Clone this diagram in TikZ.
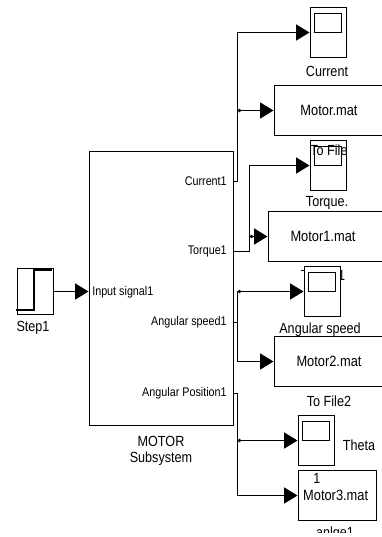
\documentclass[tikz,border=0pt]{standalone}
\usepackage{fontspec}
\setmainfont[FakeStretch=0.86]{Liberation Sans}
\usetikzlibrary{arrows.meta, positioning}
\tikzset{
  scopebox/.style = {rectangle, draw=black, line width=0.75pt, fill=white,
                     minimum width=27pt, minimum height=38pt, inner sep=0pt},
  screen/.style   = {rectangle, draw=black, line width=0.75pt, fill=white,
                     minimum width=20pt, minimum height=14.5pt, inner sep=0pt},
  filebox/.style  = {rectangle, draw=black, line width=0.75pt,
                     minimum height=37.5pt, inner sep=0pt, font=\fontsize{11.2}{13}\selectfont},
  lbl/.style      = {inner sep=0pt, font=\fontsize{11}{13}\selectfont},
  port/.style     = {inner sep=0pt, font=\fontsize{9.4}{11}\selectfont},
  arr/.style      = {-{Triangle[length=10pt,width=12pt]}, line width=0.85pt},
  wire/.style     = {line width=0.85pt},
  dotmark/.style  = {circle, fill=black, inner sep=0pt, minimum size=2.8pt},
}

\begin{document}
\begin{tikzpicture}[x=0.75pt, y=-0.75pt]
  \clip (0,0) rectangle (382,537);

  %% --- Source and subsystem ---
  \node[scopebox, minimum height=35pt] (stepblk) at (35,291.5) {};
  \node[lbl] (steplbl) at (33,328) {Step1};
  \node[rectangle, draw=black, line width=0.75pt, minimum width=108pt,
        minimum height=206pt, inner sep=0pt] (motor) at (161,288.5) {};
  \node[port, right] (inlbl) at (92,292) {Input signal1};
  \node[port, left] (curlbl) at (227,181.5) {Current1};
  \node[port, left] (torlbl) at (227,251.5) {Torque1};
  \node[port, left] (spdlbl) at (227,322.5) {Angular speed1};
  \node[port, left] (poslbl) at (227,393.5) {Angular Position1};
  \node[lbl] (motorlbl) at (161,441) {MOTOR};
  \node[lbl] (sublbl) at (161,459) {Subsystem};

  %% --- Step glyph ---
  \draw[wire, line width=1pt] (16,310) -- (34,310) -- (34,270) -- (52,270);

  %% --- Current sinks ---
  \node[scopebox] (scopeA) at (328,32.5) {};
  \node[lbl] (scopeAlbl) at (327,71) {Current};
  \node[filebox, minimum width=82.5pt] (fileA) at (329,110.5) {Motor.mat};

  %% --- Torque sinks ---
  \node[scopebox] (scopeB) at (328,165.5) {};
  \node[filebox, minimum width=87pt] (fileB) at (326,236.5) {\hspace*{-4.5pt}Motor1.mat};
  \node[lbl] (scopeBlbl) at (327,203) {Torque.};
  \node[lbl] (fileBlbl) at (323,275) {To File1};

  %% --- Speed sinks ---
  \node[scopebox] (scopeC) at (322,291.5) {};
  \node[filebox, minimum width=82.5pt] (fileC) at (329,361.5) {Motor2.mat};
  \node[lbl] (scopeClbl) at (320,330) {Angular speed};
  \node[lbl] (fileClbl) at (329,401) {To File2};

  %% --- Position sinks ---
  \node[scopebox] (scopeD) at (316,440.5) {};
  \node[lbl] (scopeDlbl) at (359,445) {Theta};
  \node[filebox, minimum width=58.5pt] (fileD) at (337,495.5) {\hspace*{-2pt}Motor3.mat};
  \node[lbl] (fileDnum) at (317,478) {1};
  \begin{scope}
    \clip (290,524) rectangle (382,532);
    \node[lbl] (fileDlbl) at (335,534) {anlge1};
  \end{scope}

  %% --- Scope screens ---
  \foreach \s in {scopeA, scopeB, scopeC, scopeD}
    \node[screen, below=4.5pt of \s.north] (\s-scrn) {};

  \node[lbl] (fileAlbl) at (329,150) {To File};

  %% --- Arrows ---
  \draw[arr] (stepblk.east) -- (motor.west |- stepblk.east);

  \coordinate (curtrunk) at (237.5,181.5);
  \coordinate (tortrunk) at (249.5,251.5);
  \coordinate (spdtrunk) at (237.5,322.5);
  \coordinate (postrunk) at (237.5,393.5);

  \draw[arr] (motor.east |- curlbl) -- (curtrunk) |- (scopeA.west);
  \draw[arr] (curtrunk |- fileA.west) -- (fileA.west);
  \draw[arr] (motor.east |- torlbl) -- (tortrunk) |- (scopeB.west);
  \draw[arr] (tortrunk |- fileB.west) -- (fileB.west);
  \draw[wire] (motor.east |- spdlbl) -- (spdtrunk);
  \draw[arr] (spdtrunk) |- (scopeC.west);
  \draw[arr] (spdtrunk) |- (fileC.west);
  \draw[wire] (motor.east |- poslbl) -- (postrunk);
  \draw[arr] (postrunk) |- (scopeD.west);
  \draw[arr] (postrunk) |- (fileD.west);

  %% --- Branch dots ---
  \node[dotmark, xshift=1.5pt] (dotA) at (curtrunk |- fileA.west) {};
  \node[dotmark, xshift=1.5pt] (dotB) at (tortrunk |- fileB.west) {};
  \node[dotmark, xshift=1.5pt] (dotC) at (spdtrunk |- scopeC.west) {};
  \node[dotmark, xshift=1.5pt] (dotD) at (postrunk |- scopeD.west) {};

\end{tikzpicture}
\end{document}
